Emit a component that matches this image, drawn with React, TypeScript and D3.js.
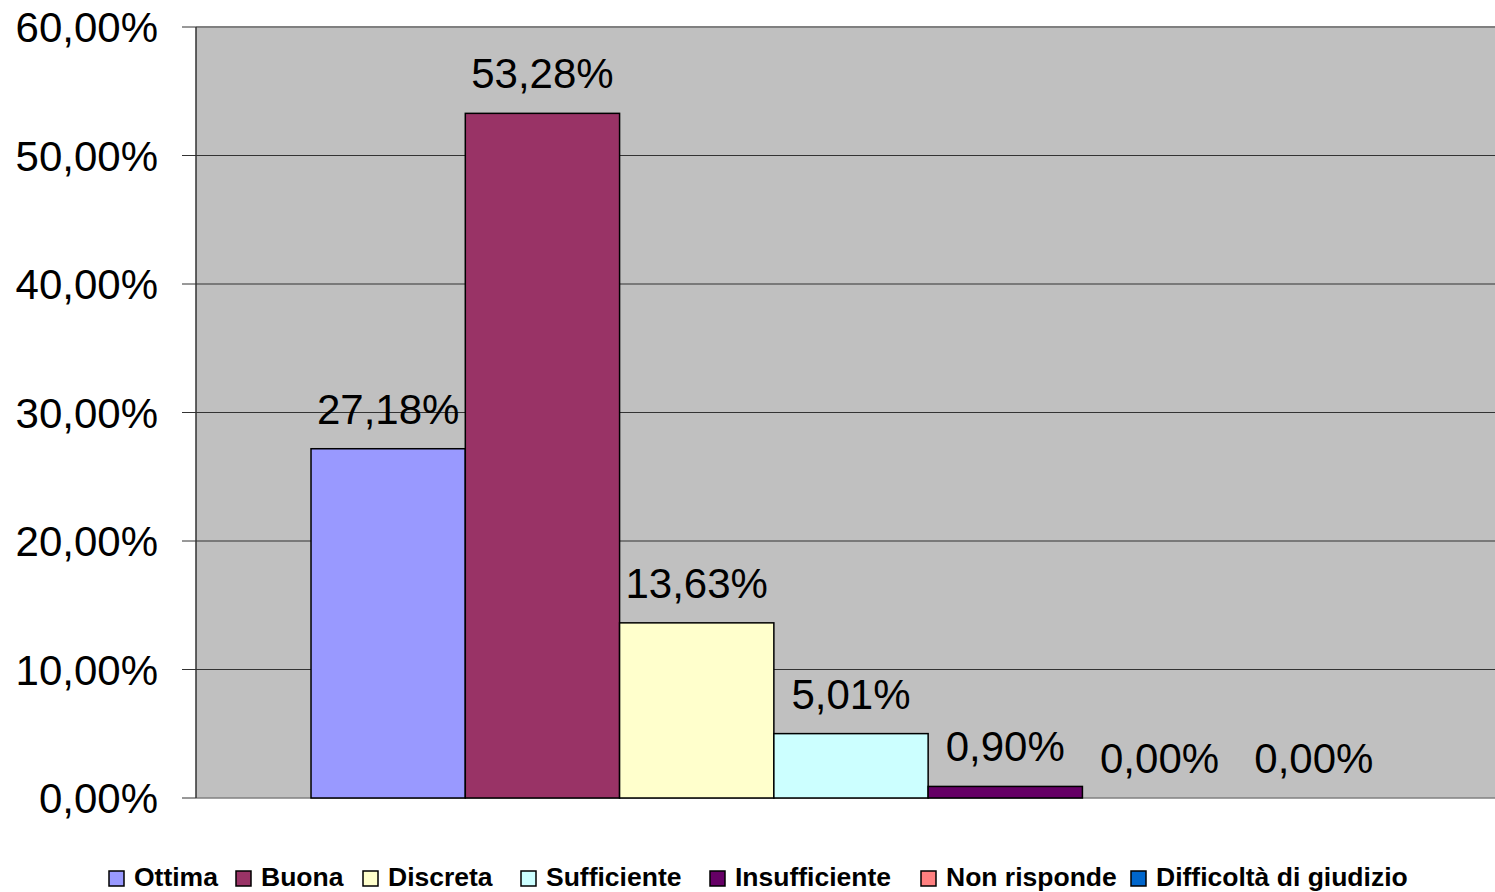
import React from "react";
import * as d3 from "d3";

const categories = ["Ottima", "Buona", "Discreta", "Sufficiente", "Insufficiente", "Non risponde", "Difficoltà di giudizio"];
const values = [27.18, 53.28, 13.63, 5.01, 0.9, 0.0, 0.0];
const colors = ["#9999FF", "#993366", "#FFFFCC", "#CCFFFF", "#660066", "#FF8080", "#0066CC"];
const yTicks = [0, 10, 20, 30, 40, 50, 60];
const legendX = [109, 236, 363, 521, 710, 921, 1131];

const W = 1495;
const H = 892;
const left = 196;
const right = 1506;
const top = 27;
const bottom = 798;

const fmt = (v: number) => v.toFixed(2).replace(".", ",") + "%";

export default function App() {
  const y = d3.scaleLinear().domain([0, 60]).range([bottom, top]);
  const outer = d3.scaleBand<string>().domain(["all"]).range([left, right]).paddingInner(0).paddingOuter(0.1065);
  const gx = outer("all") as number;
  const inner = d3.scaleBand<string>().domain(categories).range([gx, gx + outer.bandwidth()]).padding(0);
  const font = "Arial, 'Liberation Sans', sans-serif";

  return (
    <svg width={W} height={H} style={{ position: "fixed", top: 0, left: 0, background: "#fff" }} fontFamily={font}>
      <rect x={left} y={top} width={right - left} height={bottom - top} fill="#C0C0C0" />
      {yTicks.map((t) => (
        <g key={t}>
          {t > 0 && t < 60 && <line x1={left} x2={right} y1={y(t)} y2={y(t)} stroke="#333" strokeWidth={1} />}
          <line x1={182} x2={left} y1={y(t)} y2={y(t)} stroke="#333" strokeWidth={1} />
          <text x={158} y={y(t) + 15} textAnchor="end" fontSize={42} fill="#000">
            {fmt(t)}
          </text>
        </g>
      ))}
      <line x1={left} x2={right} y1={top} y2={top} stroke="#808080" strokeWidth={2} />
      <line x1={left} x2={right} y1={bottom} y2={bottom} stroke="#808080" strokeWidth={1.5} />
      <line x1={left} x2={left} y1={top} y2={bottom} stroke="#333" strokeWidth={1.5} />
      {categories.map((c, i) => (
        <g key={c}>
          {values[i] > 0 && (
            <rect
              x={inner(c)}
              y={y(values[i])}
              width={inner.bandwidth()}
              height={bottom - y(values[i])}
              fill={colors[i]}
              stroke="#000"
              strokeWidth={1.5}
            />
          )}
          <text
            x={(inner(c) as number) + inner.bandwidth() / 2}
            y={y(values[i]) - 25}
            textAnchor="middle"
            fontSize={42}
            fill="#000"
          >
            {fmt(values[i])}
          </text>
        </g>
      ))}
      {categories.map((c, i) => (
        <g key={"lg" + c}>
          <rect x={legendX[i]} y={871} width={15} height={15} fill={colors[i]} stroke="#000" strokeWidth={1.5} />
          <text x={legendX[i] + 25} y={886} fontSize={26.5} fontWeight="bold" fill="#000">
            {c}
          </text>
        </g>
      ))}
    </svg>
  );
}
